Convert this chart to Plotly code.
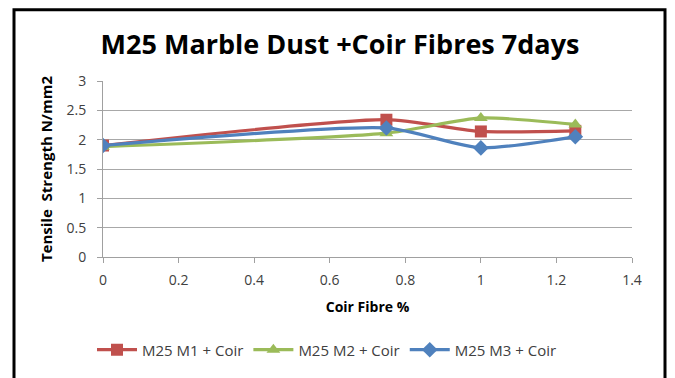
import plotly.graph_objects as go

x_vals = [0, 0.75, 1.0, 1.25]
m1 = [1.90, 2.34, 2.14, 2.15]
m2 = [1.88, 2.11, 2.37, 2.26]
m3 = [1.90, 2.20, 1.86, 2.05]
names = ["M25 M1 + Coir", "M25 M2 + Coir", "M25 M3 + Coir"]
colors = ["#C0504D", "#9BBB59", "#4F81BD"]
symbols = ["square", "triangle-up", "diamond"]

fig = go.Figure()
for y, n, c, s in zip([m1, m2, m3], names, colors, symbols):
    fig.add_trace(go.Scatter(
        x=x_vals, y=y, name=n, mode="lines+markers",
        line=dict(color=c, width=3.2, shape="spline", smoothing=0.6),
        marker=dict(symbol=s, size=12, color=c),
    ))

L, R, T, B = 103, 43, 81, 119
W, H = 675, 378
pw, ph = W - L - R, H - T - B
FONT = "Open Sans, Arial"

def px(x):
    return (x - L) / pw

def py(y):
    return (H - B - y) / ph

fig.add_shape(type="rect", xref="paper", yref="paper",
              x0=px(14), x1=px(665), y0=py(385), y1=py(9),
              line=dict(color="black", width=3), layer="below")

fig.update_layout(
    width=W, height=H,
    margin=dict(l=L, r=R, t=T, b=B),
    paper_bgcolor="white", plot_bgcolor="white",
    font=dict(family=FONT, size=14, color="#404040"),
    title=dict(text="<b>M25 Marble Dust +Coir Fibres 7days</b>",
               x=(340 / W), xref="container", xanchor="center",
               y=1 - 45 / H, yref="container", yanchor="middle",
               font=dict(size=27, color="black", family=FONT)),
    xaxis=dict(range=[0, 1.4], dtick=0.2, tick0=0, showgrid=True,
               gridcolor="rgba(0,0,0,0)", zeroline=False,
               showline=True, linecolor="#A0A0A0", ticks="outside",
               tickcolor="#A0A0A0", ticklen=5, ticklabelstandoff=5,
               title=dict(text="<b>Coir Fibre %</b>", standoff=14,
                          font=dict(size=14, color="black"))),
    yaxis=dict(range=[0, 3], dtick=0.5, showgrid=True, gridcolor="#A8A8A8",
               zeroline=False, showline=True, linecolor="#A0A0A0",
               ticks="outside", tickcolor="#A0A0A0", ticklen=5,
               ticklabelstandoff=8,
               title=dict(text="<b>Tensile  Strength N/mm2</b>", standoff=10,
                          font=dict(size=15, color="black"))),
    legend=dict(orientation="h", x=px(327), xanchor="center", y=py(353),
                yanchor="middle", font=dict(size=15, color="#404040"),
                itemwidth=40, tracegroupgap=0),
    showlegend=True,
)

fig.write_html("out.html")
